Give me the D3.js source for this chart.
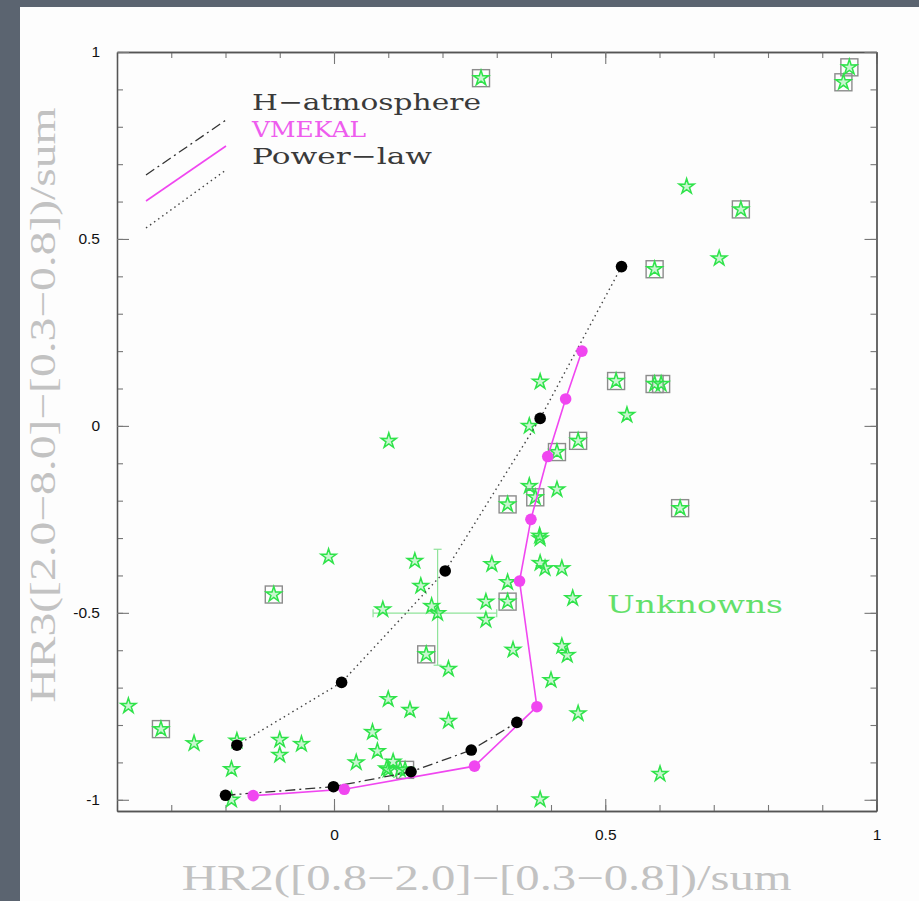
<!DOCTYPE html>
<html><head><meta charset="utf-8">
<script src="https://cdn.jsdelivr.net/npm/d3@7"></script>
<style>html,body{margin:0;padding:0;background:#5b6470;}svg{display:block;}</style>
</head><body>
<script>
// ---- data ----
const xDomain = [-0.4, 1.0];
const yDomain = [-1.03, 1.0];
const xMajorTicks = [0, 0.5, 1];
const yMajorTicks = [-1, -0.5, 0, 0.5, 1];
const xMinorTicks = [-0.4,-0.3,-0.2,-0.1,0,0.1,0.2,0.3,0.4,0.5,0.6,0.7,0.8,0.9,1.0];
const yMinorTicks = [-1,-0.9,-0.8,-0.7,-0.6,-0.5,-0.4,-0.3,-0.2,-0.1,0,0.1,0.2,0.3,0.4,0.5,0.6,0.7,0.8,0.9,1.0];

// model tracks
const powerX = [0.530, 0.380, 0.205, 0.014, -0.179];
const powerY = [0.426, 0.020, -0.388, -0.686, -0.854];
const hatmX = [-0.200, -0.001, 0.142, 0.253, 0.337];
const hatmY = [-0.988, -0.965, -0.925, -0.867, -0.793];
const vmekalX = [-0.149, 0.019, 0.259, 0.374, 0.342, 0.363, 0.394, 0.427, 0.457];
const vmekalY = [-0.989, -0.972, -0.910, -0.751, -0.415, -0.250, -0.082, 0.072, 0.200];

// unknown sources (plain stars)
const starX = [0.650, 0.710, 0.380, 0.540, 0.360, 0.101, 0.360, 0.411, 0.379, 0.380, -0.010, 0.149, 0.291, 0.380, 0.389, 0.420,
  0.320, 0.160, 0.440, 0.280, 0.090, 0.180, 0.191, 0.280, 0.330, 0.420, 0.430, 0.211, 0.400, -0.379, 0.100, 0.450,
  0.140, 0.211, 0.071, -0.258, -0.179, -0.100, -0.100, -0.060, 0.080, 0.041, 0.109, 0.100, 0.097, 0.122, -0.189, -0.189,
  0.380, 0.601];
const starY = [0.640, 0.448, 0.118, 0.029, 0.000, -0.040, -0.161, -0.170, -0.294, -0.301, -0.350, -0.361, -0.370, -0.367, -0.381, -0.381,
  -0.418, -0.428, -0.461, -0.470, -0.491, -0.482, -0.501, -0.519, -0.599, -0.589, -0.613, -0.650, -0.680, -0.749, -0.731, -0.769,
  -0.760, -0.789, -0.819, -0.849, -0.842, -0.840, -0.880, -0.851, -0.870, -0.900, -0.898, -0.920, -0.916, -0.919, -0.918, -1.000,
  -0.999, -0.931];

// unknown sources flagged with a box
const boxX = [0.950, 0.939, 0.271, 0.750, 0.591, 0.520, 0.591, 0.603, 0.450, 0.411, 0.371, 0.320, 0.638, -0.111, 0.320, 0.170, -0.319, 0.131];
const boxY = [0.959, 0.919, 0.930, 0.579, 0.419, 0.120, 0.112, 0.112, -0.040, -0.070, -0.191, -0.210, -0.220, -0.451, -0.470, -0.611, -0.811, -0.920];

// typical error bar
const errCenter = [0.191, -0.501];
const errXRange = [0.072, 0.300];
const errYRange = [-0.640, -0.330];

const legendNames = ["H\u2212atmosphere", "VMEKAL", "Power\u2212law"];
const xTitle = "HR2([0.8\u22122.0]\u2212[0.3\u22120.8])/sum";
const yTitle = "HR3([2.0\u22128.0]\u2212[0.3\u22120.8])/sum";
const annotation = "Unknowns";

// ---- drawing ----
const W = 919, H = 901;
const svg = d3.select("body").append("svg").attr("width", W).attr("height", H);
svg.append("rect").attr("width", W).attr("height", H).attr("fill", "#5b6470");
svg.append("rect").attr("x", 20).attr("y", 7).attr("width", W - 20).attr("height", H - 7).attr("fill", "#fdfdfd");

const L = 117, R = 876.5, T = 52, B = 811;
const x = d3.scaleLinear().domain(xDomain).range([L, R]);
const y = d3.scaleLinear().domain(yDomain).range([B, T]);

const GREEN = "#2fe34a", MAG = "#f046f0", BOXC = "#8c8c8c";

// axes (ticks inward)
function styleAxis(g){ g.select(".domain").attr("stroke", "#555").attr("stroke-width", 1.3);
  g.selectAll(".tick line").attr("stroke", "#777").attr("stroke-width", 1.1); }
svg.append("g").attr("transform", `translate(0,${B})`).call(d3.axisBottom(x).tickValues(xMinorTicks).tickSize(-6).tickSizeOuter(0).tickFormat("")).call(styleAxis);
svg.append("g").attr("transform", `translate(0,${T})`).call(d3.axisTop(x).tickValues(xMinorTicks).tickSize(-6).tickSizeOuter(0).tickFormat("")).call(styleAxis);
svg.append("g").attr("transform", `translate(${L},0)`).call(d3.axisLeft(y).tickValues(yMinorTicks).tickSize(-6).tickSizeOuter(0).tickFormat("")).call(styleAxis);
svg.append("g").attr("transform", `translate(${R},0)`).call(d3.axisRight(y).tickValues(yMinorTicks).tickSize(-6).tickSizeOuter(0).tickFormat("")).call(styleAxis);
const fmt = d => d === 0 ? "0" : String(d);
svg.append("g").attr("transform", `translate(0,${B})`).call(d3.axisBottom(x).tickValues(xMajorTicks).tickSize(-12).tickSizeOuter(0).tickPadding(18).tickFormat(fmt)).call(styleAxis);
svg.append("g").attr("transform", `translate(0,${T})`).call(d3.axisTop(x).tickValues(xMajorTicks).tickSize(-12).tickSizeOuter(0).tickFormat("")).call(styleAxis);
svg.append("g").attr("transform", `translate(${L},0)`).call(d3.axisLeft(y).tickValues(yMajorTicks).tickSize(-12).tickSizeOuter(0).tickPadding(17).tickFormat(fmt)).call(styleAxis);
svg.append("g").attr("transform", `translate(${R},0)`).call(d3.axisRight(y).tickValues(yMajorTicks).tickSize(-12).tickSizeOuter(0).tickFormat("")).call(styleAxis);
svg.selectAll("g.tick text").attr("font-family", "'Liberation Sans', Arial, sans-serif").attr("font-size", 15.5).attr("fill", "#111");

// axis titles
svg.append("text").attr("x", (L + R) / 2 - 10).attr("y", 890).attr("text-anchor", "middle")
  .attr("font-family", "'Liberation Serif', 'DejaVu Serif', serif").attr("font-size", 36).attr("fill", "#c2c2c2")
  .attr("textLength", 610).attr("lengthAdjust", "spacingAndGlyphs").text(xTitle);
svg.append("text").attr("transform", `translate(55,${405}) rotate(-90)`).attr("text-anchor", "middle")
  .attr("font-family", "'Liberation Serif', 'DejaVu Serif', serif").attr("font-size", 36).attr("fill", "#c2c2c2")
  .attr("textLength", 595).attr("lengthAdjust", "spacingAndGlyphs").text(yTitle);

// error bar
const eg = svg.append("g").attr("stroke", "#8fe39a").attr("stroke-width", 1.2);
eg.append("line").attr("x1", x(errXRange[0])).attr("x2", x(errXRange[1])).attr("y1", y(errCenter[1])).attr("y2", y(errCenter[1]));
eg.append("line").attr("x1", x(errCenter[0])).attr("x2", x(errCenter[0])).attr("y1", y(errYRange[0])).attr("y2", y(errYRange[1]));
errXRange.forEach(v => eg.append("line").attr("x1", x(v)).attr("x2", x(v)).attr("y1", y(errCenter[1]) - 4).attr("y2", y(errCenter[1]) + 4));
errYRange.forEach(v => eg.append("line").attr("y1", y(v)).attr("y2", y(v)).attr("x1", x(errCenter[0]) - 4).attr("x2", x(errCenter[0]) + 4));

// star path
function starPath(ro, ri){ const p = []; for (let i = 0; i < 10; i++){ const a = -Math.PI/2 + i*Math.PI/5; const r = i % 2 ? ri : ro; p.push([r*Math.cos(a), r*Math.sin(a)]); } return "M" + p.map(d => d.join(",")).join("L") + "Z"; }
const SP = starPath(8, 3.0);

// boxes
const boxes = d3.range(boxX.length).map(i => [boxX[i], boxY[i]]);
svg.append("g").selectAll("rect").data(boxes).join("rect")
  .attr("x", d => x(d[0]) - 8.5).attr("y", d => y(d[1]) - 8.5).attr("width", 17).attr("height", 17)
  .attr("fill", "none").attr("stroke", BOXC).attr("stroke-width", 1.4);
svg.append("g").selectAll("path").data(boxes).join("path").attr("d", SP)
  .attr("transform", d => `translate(${x(d[0])},${y(d[1])})`).attr("fill", "rgba(47,227,74,0.25)").attr("stroke", GREEN).attr("stroke-width", 1.5);

// stars
const stars = d3.range(starX.length).map(i => [starX[i], starY[i]]);
svg.append("g").selectAll("path").data(stars).join("path").attr("d", SP)
  .attr("transform", d => `translate(${x(d[0])},${y(d[1])})`).attr("fill", "rgba(47,227,74,0.25)").attr("stroke", GREEN).attr("stroke-width", 1.5);

// model lines
const line = d3.line().x(d => x(d[0])).y(d => y(d[1]));
const pw = d3.range(powerX.length).map(i => [powerX[i], powerY[i]]);
const ha = d3.range(hatmX.length).map(i => [hatmX[i], hatmY[i]]);
const vm = d3.range(vmekalX.length).map(i => [vmekalX[i], vmekalY[i]]);
svg.append("path").attr("d", line(pw)).attr("fill", "none").attr("stroke", "#444").attr("stroke-width", 1.4).attr("stroke-dasharray", "1.5,3.5");
svg.append("path").attr("d", line(ha)).attr("fill", "none").attr("stroke", "#333").attr("stroke-width", 1.3).attr("stroke-dasharray", "10,4,2,4");
svg.append("path").attr("d", line(vm)).attr("fill", "none").attr("stroke", MAG).attr("stroke-width", 1.6);
svg.append("g").selectAll("circle").data(vm).join("circle").attr("cx", d => x(d[0])).attr("cy", d => y(d[1])).attr("r", 5.8).attr("fill", MAG);
svg.append("g").selectAll("circle").data(pw.concat(ha)).join("circle").attr("cx", d => x(d[0])).attr("cy", d => y(d[1])).attr("r", 5.8).attr("fill", "#000");

// legend
const lg = svg.append("g").attr("transform", "translate(146,120)");
lg.append("line").attr("x1", 0).attr("y1", 55).attr("x2", 80).attr("y2", 0).attr("stroke", "#333").attr("stroke-width", 1.3).attr("stroke-dasharray", "10,4,2,4");
lg.append("line").attr("x1", 0).attr("y1", 81).attr("x2", 80).attr("y2", 26).attr("stroke", MAG).attr("stroke-width", 1.6);
lg.append("line").attr("x1", 0).attr("y1", 108).attr("x2", 80).attr("y2", 50).attr("stroke", "#444").attr("stroke-width", 1.4).attr("stroke-dasharray", "1.5,3.5");
const legendColors = ["#3a3a3a", "#ee5cee", "#3a3a3a"];
const legendLens = [229, 114, 180];
const legendBase = [110, 137, 164];
legendNames.forEach((t, i) => {
  svg.append("text").attr("x", 252).attr("y", legendBase[i]).attr("font-family", "'DejaVu Serif', serif").attr("font-size", 23)
    .attr("fill", legendColors[i]).attr("textLength", legendLens[i]).attr("lengthAdjust", "spacingAndGlyphs").text(t);
});
svg.append("text").attr("x", 607).attr("y", 613).attr("font-family", "'DejaVu Serif', serif").attr("font-size", 24)
  .attr("fill", "#63e06a").attr("textLength", 176).attr("lengthAdjust", "spacingAndGlyphs").text(annotation);
</script>
</body></html>
